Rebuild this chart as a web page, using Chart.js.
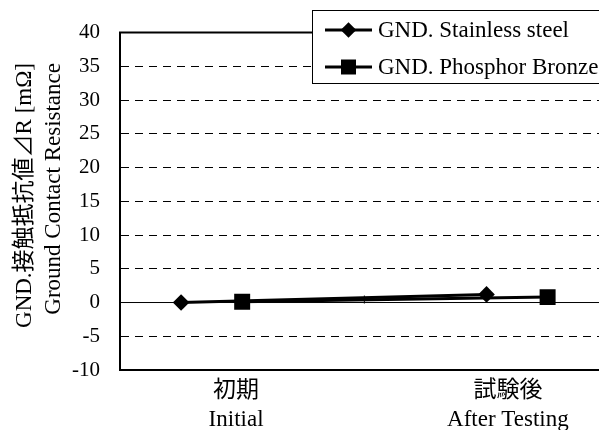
<!DOCTYPE html>
<html>
<head>
<meta charset="utf-8">
<script src="https://cdn.jsdelivr.net/npm/chart.js@4.4.1/dist/chart.umd.min.js"></script>
<style>
  html, body { margin: 0; padding: 0; background: #fff; overflow: hidden; }
  #wrap { width: 620px; height: 430px; }
</style>
</head>
<body>
<div id="wrap"><canvas id="chart" width="620" height="430"></canvas></div>
<script>
/* ── data ── */
const categories  = [['初期', 'Initial'], ['試験後', 'After Testing']];
const seriesNames = ['GND. Stainless steel', 'GND. Phosphor Bronze'];
const stainless   = [0.0, 1.2];
const bronze      = [0.1, 0.8];
const yTitle      = ['GND.接触抵抗値⊿R [mΩ]', 'Ground Contact Resistance'];
const Y_MIN = -10, Y_MAX = 40, Y_STEP = 5;

/* ── layout (x units: one category step = 1) ── */
const CAT_X        = [1, 2];
const SERIES_SHIFT = [0, 0.2];
const LABEL_X      = [1.18, 2.07];
const FONT = "'Liberation Serif', 'Times New Roman', 'Noto Sans CJK JP', serif";

const pts = (vals, s) => vals.map((v, i) => ({ x: CAT_X[i] + SERIES_SHIFT[s], y: v }));

function marker(ctx, style, cx, cy) {
  ctx.beginPath();
  if (style === 'rectRot') {
    const r = 7.8;
    ctx.moveTo(cx, cy - r); ctx.lineTo(cx + r, cy); ctx.lineTo(cx, cy + r); ctx.lineTo(cx - r, cy);
    ctx.closePath();
  } else {
    ctx.rect(cx - 7.5, cy - 7.5, 15, 15);
  }
  ctx.fill();
}

/* ── extra drawing: zero axis, top border, legend box, y titles ── */
const decor = {
  id: 'decor',
  beforeDatasetsDraw(chart) {
    const { ctx, chartArea: a, scales: { x, y } } = chart;
    ctx.save();
    ctx.strokeStyle = '#000';
    const y0 = y.getPixelForValue(0);
    ctx.lineWidth = 1;
    ctx.beginPath(); ctx.moveTo(a.left, y0); ctx.lineTo(a.right, y0); ctx.stroke();
    const xm = x.getPixelForValue((CAT_X[0] + CAT_X[1] + SERIES_SHIFT[1]) / 2);
    ctx.beginPath(); ctx.moveTo(xm, y0 - 7); ctx.lineTo(xm, y0 + 1); ctx.stroke();
    ctx.lineWidth = 2;
    ctx.beginPath(); ctx.moveTo(a.left - 1, a.top); ctx.lineTo(a.right, a.top); ctx.stroke();
    ctx.restore();
  },
  afterDraw(chart) {
    const { ctx } = chart;
    ctx.save();
    // legend
    ctx.fillStyle = '#fff';
    ctx.strokeStyle = '#000';
    ctx.lineWidth = 1;
    ctx.fillRect(312, 10, 330, 73);
    ctx.strokeRect(312.5, 10.5, 330, 73);
    ctx.font = '23px ' + FONT;
    ctx.textBaseline = 'middle';
    ctx.textAlign = 'left';
    chart.data.datasets.forEach((ds, i) => {
      const ry = 30 + i * 37;
      ctx.strokeStyle = '#000';
      ctx.fillStyle = '#000';
      ctx.lineWidth = 3;
      ctx.beginPath(); ctx.moveTo(325, ry); ctx.lineTo(372, ry); ctx.stroke();
      marker(ctx, ds.pointStyle, 348.5, ry);
      ctx.fillText(ds.label, 378, ry + 1);
    });
    // y axis titles, end-aligned at the top
    ctx.textAlign = 'right';
    [25, 54].forEach((cx, i) => {
      ctx.save();
      ctx.translate(cx, 63);
      ctx.rotate(-Math.PI / 2);
      ctx.fillText(yTitle[i], 0, 0);
      ctx.restore();
    });
    ctx.restore();
  }
};

new Chart(document.getElementById('chart'), {
  type: 'line',
  data: {
    datasets: [
      {
        label: seriesNames[0],
        data: pts(stainless, 0),
        borderColor: '#000',
        backgroundColor: '#000',
        borderWidth: 3,
        pointStyle: 'rectRot',
        pointRadius: 8.3,
        pointBorderWidth: 0,
        pointBackgroundColor: '#000',
      },
      {
        label: seriesNames[1],
        data: pts(bronze, 1),
        borderColor: '#000',
        backgroundColor: '#000',
        borderWidth: 3,
        pointStyle: 'rect',
        pointRadius: 11.3,
        pointBorderWidth: 0,
        pointBackgroundColor: '#000',
      }
    ]
  },
  options: {
    responsive: false,
    animation: false,
    layout: { padding: { left: 0, top: 27, right: 9, bottom: 0 } },
    plugins: { legend: { display: false }, tooltip: { enabled: false } },
    scales: {
      x: {
        type: 'linear',
        min: 0.8,
        max: 2.4,
        afterBuildTicks: scale => { scale.ticks = LABEL_X.map(v => ({ value: v })); },
        afterFit: scale => { scale.height = 60; },
        grid: { display: false },
        border: { display: true, color: '#000', width: 2 },
        ticks: {
          autoSkip: false,
          maxRotation: 0,
          padding: -1,
          color: '#000',
          font: { family: FONT, size: 23, lineHeight: 1.25 },
          callback: (v, i) => categories[i],
        }
      },
      y: {
        min: Y_MIN,
        max: Y_MAX,
        afterFit: scale => { scale.width = 120; },
        grid: {
          drawTicks: false,
          lineWidth: 1,
          color: c => ([Y_MIN, 0, Y_MAX].includes(c.tick.value) ? 'rgba(0,0,0,0)' : '#000'),
        },
        border: { display: true, color: '#000', width: 2, dash: [8, 6] },
        ticks: {
          stepSize: Y_STEP,
          padding: 20,
          color: '#000',
          font: { family: FONT, size: 21 },
        }
      }
    }
  },
  plugins: [decor]
});
</script>
</body>
</html>
